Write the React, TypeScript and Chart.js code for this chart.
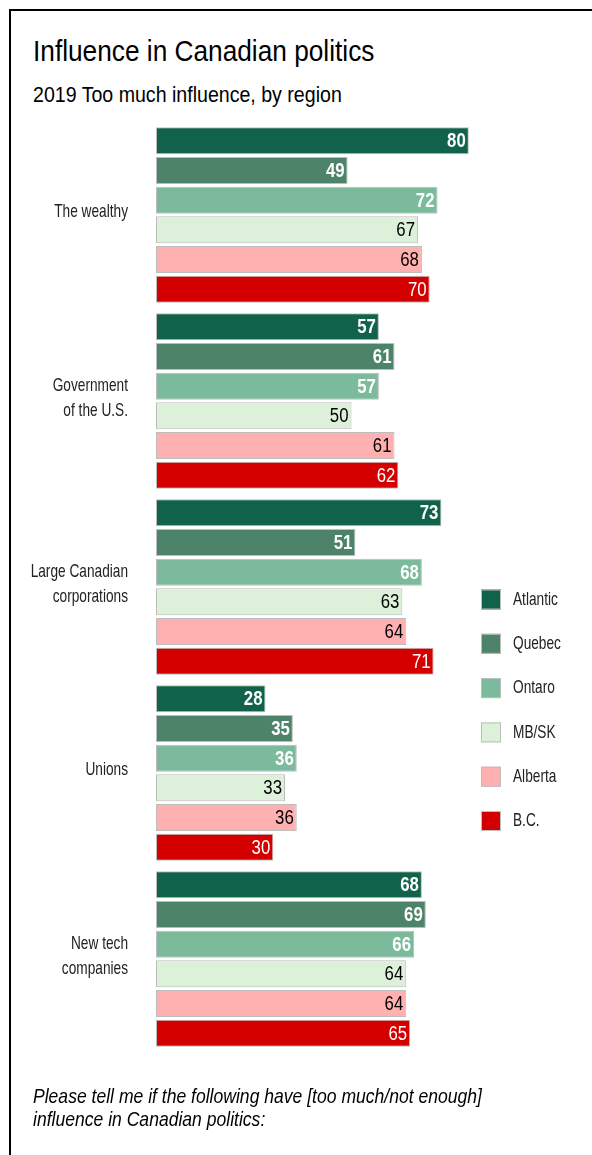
import React, { useEffect, useRef } from "react";
import { Chart, registerables } from "chart.js";

Chart.register(...registerables);

// ---- data ----
const categories: string[][] = [
  ["The wealthy"],
  ["Government", "of the U.S."],
  ["Large Canadian", "corporations"],
  ["Unions"],
  ["New tech", "companies"],
];
const regions = ["Atlantic", "Quebec", "Ontaro", "MB/SK", "Alberta", "B.C."];
const atlantic = [80, 57, 73, 28, 68];
const quebec = [49, 61, 51, 35, 69];
const ontaro = [72, 57, 68, 36, 66];
const mbsk = [67, 50, 63, 33, 64];
const alberta = [68, 61, 64, 36, 64];
const bc = [70, 62, 71, 30, 65];

const seriesValues = [atlantic, quebec, ontaro, mbsk, alberta, bc];
const seriesColors = ["#10634a", "#4d8469", "#7bbb9c", "#dcf0da", "#ffb0b0", "#d40000"];
const labelColors = ["#ffffff", "#ffffff", "#ffffff", "#000000", "#000000", "#ffffff"];
const labelBold = [true, true, true, false, false, false];

const SANS = "'Liberation Sans', Arial, sans-serif";

function drawCondensed(
  ctx: CanvasRenderingContext2D,
  text: string,
  x: number,
  y: number,
  align: CanvasTextAlign,
  sx: number,
  font: string,
  color: string
) {
  ctx.save();
  ctx.translate(x, y);
  ctx.scale(sx, 1);
  ctx.font = font;
  ctx.fillStyle = color;
  ctx.textAlign = align;
  ctx.textBaseline = "middle";
  ctx.fillText(text, 0, 0);
  ctx.restore();
}

const valueLabelPlugin = {
  id: "valueLabels",
  afterDatasetsDraw(chart: any) {
    const ctx = chart.ctx;
    chart.data.datasets.forEach((ds: any, di: number) => {
      const meta = chart.getDatasetMeta(di);
      meta.data.forEach((el: any, i: number) => {
        drawCondensed(
          ctx,
          String(ds.data[i]),
          el.x - 3,
          el.y + 1,
          "right",
          0.84,
          `${labelBold[di] ? "bold " : ""}20px ${SANS}`,
          labelColors[di]
        );
      });
    });
  },
};

const categoryLabelPlugin = {
  id: "categoryLabels",
  afterDraw(chart: any) {
    const ctx = chart.ctx;
    const yScale = chart.scales.y;
    const lh = 25;
    (chart.data.labels as string[][]).forEach((lines, i) => {
      const cy = yScale.getPixelForTick(i) - 3;
      const start = cy - ((lines.length - 1) * lh) / 2;
      lines.forEach((ln, j) => {
        drawCondensed(ctx, ln, 128, start + j * lh, "right", 0.72, `19px ${SANS}`, "#222222");
      });
    });
  },
};

const customLegendPlugin = {
  id: "customLegend",
  afterDraw(chart: any) {
    const ctx = chart.ctx;
    const x0 = 481;
    const y0 = 599.5;
    const step = 44.3;
    chart.data.datasets.forEach((ds: any, i: number) => {
      const cy = y0 + i * step;
      ctx.save();
      ctx.fillStyle = ds.backgroundColor;
      ctx.fillRect(x0, cy - 10, 20, 20);
      ctx.strokeStyle = "#bdbdbd";
      ctx.lineWidth = 1;
      ctx.strokeRect(x0 + 0.5, cy - 9.5, 19, 19);
      ctx.restore();
      drawCondensed(ctx, ds.label, 513, cy, "left", 0.72, `19px ${SANS}`, "#222222");
    });
  },
};

function BarChart() {
  const ref = useRef<HTMLCanvasElement>(null);
  useEffect(() => {
    if (!ref.current) return;
    const chart = new Chart(ref.current, {
      type: "bar",
      data: {
        labels: categories,
        datasets: regions.map((r, i) => ({
          label: r,
          data: seriesValues[i],
          backgroundColor: seriesColors[i],
          borderColor: "#bdbdbd",
          borderWidth: 1,
          borderSkipped: false,
          categoryPercentage: 0.957,
          barPercentage: 0.91,
        })),
      },
      options: {
        indexAxis: "y",
        responsive: false,
        animation: false,
        events: [],
        layout: { padding: { left: 0, right: 45, top: 122, bottom: 103 } },
        scales: {
          x: { display: false, min: 0, max: 100 },
          y: {
            grid: { display: false, drawTicks: false },
            border: { display: false },
            ticks: { display: false },
            afterFit: (scale: any) => {
              scale.width = 156;
            },
          },
        },
        plugins: {
          legend: { display: false },
          tooltip: { enabled: false },
          title: { display: false },
        },
      } as any,
      plugins: [valueLabelPlugin, categoryLabelPlugin, customLegendPlugin],
    });
    return () => chart.destroy();
  }, []);
  return (
    <canvas
      ref={ref}
      width={592}
      height={1155}
      style={{ position: "absolute", left: 0, top: 0, width: 592, height: 1155 }}
    />
  );
}

export default function App() {
  return (
    <div>
      <div
        style={{
          position: "absolute",
          left: 9,
          top: 9,
          width: 583,
          height: 1146,
          borderLeft: "2px solid #000",
          borderTop: "2px solid #000",
          boxSizing: "border-box",
        }}
      />
      <div
        style={{
          position: "absolute",
          left: 33,
          top: 37,
          fontFamily: SANS,
          fontSize: 29,
          lineHeight: 1,
          color: "#000",
          whiteSpace: "nowrap",
          transform: "scaleX(0.905)",
          transformOrigin: "left top",
        }}
      >
        Influence in Canadian politics
      </div>
      <div
        style={{
          position: "absolute",
          left: 33,
          top: 84,
          fontFamily: SANS,
          fontSize: 22,
          lineHeight: 1,
          color: "#000",
          whiteSpace: "nowrap",
          transform: "scaleX(0.89)",
          transformOrigin: "left top",
        }}
      >
        2019 Too much influence, by region
      </div>
      <BarChart />
      <div
        style={{
          position: "absolute",
          left: 33,
          top: 1084,
          fontFamily: SANS,
          fontStyle: "italic",
          fontSize: 21,
          lineHeight: "23px",
          color: "#000",
          whiteSpace: "nowrap",
          transform: "scaleX(0.836)",
          transformOrigin: "left top",
        }}
      >
        Please tell me if the following have [too much/not enough]
        <br />
        influence in Canadian politics:
      </div>
    </div>
  );
}
